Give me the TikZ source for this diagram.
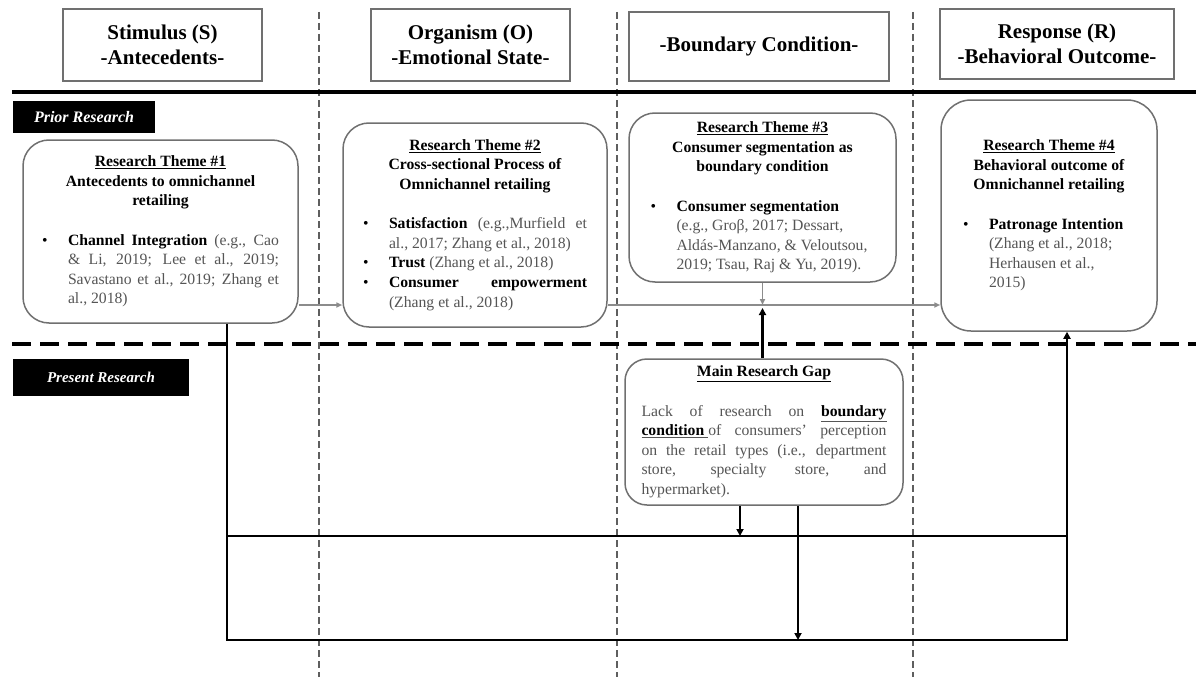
\documentclass[tikz,border=0pt]{standalone}
\usepackage{fontspec}
\setmainfont{Liberation Serif}
\usepackage{xcolor}
\usepackage{tikz}
\usetikzlibrary{arrows.meta,positioning}
\definecolor{boxgray}{HTML}{707070}
\definecolor{citegray}{HTML}{555555}
\definecolor{arrgray}{HTML}{8C8C8C}
\definecolor{sepgray}{HTML}{5E5E5E}
\setlength{\parindent}{0pt}
\newcommand{\bulitem}[1]{\par\hangindent=26pt\hangafter=1\noindent\makebox[26pt][l]{\textbullet}#1\par}
\newcommand{\themehead}[2]{{\centering\bfseries\underline{Research Theme \##1}\par #2\par}\vskip 19.6pt}

\begin{document}
\begin{tikzpicture}[
  x=1pt, y=-1pt,
  hdr_box/.style  ={draw=boxgray, line width=1.5pt, fill=white, align=center, font=\fontsize{21}{25}\selectfont\bfseries},
  theme_box/.style={draw=boxgray, line width=1.5pt, fill=white, rounded corners=26pt, inner sep=0pt, align=justify, font=\fontsize{15.7}{19.6}\selectfont},
  tag_box/.style  ={fill=black, text=white, inner sep=0pt, font=\fontsize{16}{18}\selectfont\bfseries\itshape},
  arr/.style      ={-{Triangle[length=6pt,width=5pt]}, line width=1.8pt, arrgray},
  arr_blk/.style  ={-{Triangle[length=7pt,width=7pt]}, line width=2.4pt, black},
  line_blk/.style ={line width=2.4pt, black},
]
  \useasboundingbox (0,0) rectangle (1196,677);

  % column and row separators
  \foreach \sx in {319,617,913}
    \draw[sepgray, line width=2.2pt, dash pattern=on 7pt off 4pt] (\sx,12) -- (\sx,677);
  \draw[black, line width=3.5pt] (12,92) -- (1196,92);
  \draw[black, line width=4pt, dash pattern=on 19pt off 9pt] (12,344) -- (1196,344);

  % header row
  \node[hdr_box, minimum width=199pt, minimum height=72pt] (h1) at (162.5,45)  {Stimulus (S)\\-Antecedents-};
  \node[hdr_box, minimum width=199pt, minimum height=72pt] (h2) at (470.5,45)  {Organism (O)\\-Emotional State-};
  \node[hdr_box, minimum width=260pt, minimum height=69pt] (h3) at (759,46.5)  {-Boundary Condition-};
  \node[hdr_box, minimum width=234pt, minimum height=70pt] (h4) at (1057,44)   {Response (R)\\-Behavioral Outcome-};

  \node[tag_box, minimum width=142pt, minimum height=32pt] (prior)   at (84,117)    {Prior Research};
  \node[tag_box, minimum width=176pt, minimum height=37pt] (present) at (101,377.5) {\fontsize{15}{18}\selectfont Present Research};

  % research themes
  \node[theme_box, minimum width=275pt, minimum height=183pt, text width=237pt] (rt1) at (160.5,231.5) {%
    \themehead{1}{Antecedents to omnichannel\par retailing}%
    \bulitem{\textbf{Channel Integration} {\color{citegray}(e.g., Cao\linebreak \& Li, 2019; Lee et al., 2019;\linebreak Savastano et al., 2019; Zhang et\linebreak al., 2018)}}};
  \node[theme_box, minimum width=264pt, minimum height=204pt, text width=224pt] (rt2) at (475,225) {%
    \themehead{2}{Cross-sectional Process of\par Omnichannel retailing}%
    \bulitem{\textbf{Satisfaction} {\color{citegray}(e.g.,Murfield et\linebreak al., 2017; Zhang et al., 2018)}}%
    \bulitem{\textbf{Trust} {\color{citegray}(Zhang et al., 2018)}}%
    \bulitem{\textbf{Consumer empowerment}\linebreak {\color{citegray}(Zhang et al., 2018)}}};
  \node[theme_box, minimum width=267pt, minimum height=169pt, text width=224pt] (rt3) at (762.5,197.5) {%
    \themehead{3}{Consumer segmentation as\par boundary condition}%
    \bulitem{\raggedright\textbf{Consumer segmentation}\newline {\color{citegray}(e.g., Groβ, 2017; Dessart,\newline Aldás-Manzano, \& Veloutsou,\newline 2019; Tsau, Raj \& Yu, 2019).}}};
  \node[theme_box, rounded corners=30pt, minimum width=216pt, minimum height=231pt, text width=172pt] (rt4) at (1049,215.5) {%
    \themehead{4}{Behavioral outcome of\par Omnichannel retailing}%
    \bulitem{\raggedright\textbf{Patronage Intention}\newline {\color{citegray}(Zhang et al., 2018;\newline Herhausen et al.,\newline 2015)}}\vskip 15pt};

  % present research gap
  \node[theme_box, rounded corners=22pt, minimum width=278pt, minimum height=146pt, text width=245pt] (gap) at (764,432) {%
    {\centering\bfseries\underline{Main Research Gap}\par}\vskip 19.6pt
    {\color{citegray}Lack of research on \underline{\textcolor{black}{\textbf{boundary}}}\linebreak \underline{\textcolor{black}{\textbf{condition}}\ }of consumers’ perception\linebreak on the retail types (i.e., department\linebreak store, specialty store, and\linebreak hypermarket).\par}};

  \coordinate (gy) at (0,305);
  \coordinate (lm) at (227,536);
  \coordinate (rm) at (1067,536);
  \coordinate (lb) at (227,640);
  \coordinate (rb) at (1067,640);
  \coordinate (g1) at (740,536);
  \coordinate (g2) at (798,640);

  \draw[arr] (rt1.east |- gy) -- (rt2.west |- gy);
  \draw[arr] (rt2.east |- gy) -- (rt4.west |- gy);
  \draw[arr] (rt3.south) -- (rt3.south |- gy);
  \draw[arr_blk, shorten >=3pt] (gap.north -| rt3.south) -- (rt3.south |- gy);

  \draw[arr_blk] (lb |- rt1.south) -- (lb) -- (rb) -- (rb |- rt4.south);
  \draw[line_blk] (lm) -- (rm);
  \draw[arr_blk] (gap.south -| g1) -- (g1);
  \draw[arr_blk] (gap.south -| g2) -- (g2);
\end{tikzpicture}
\end{document}
